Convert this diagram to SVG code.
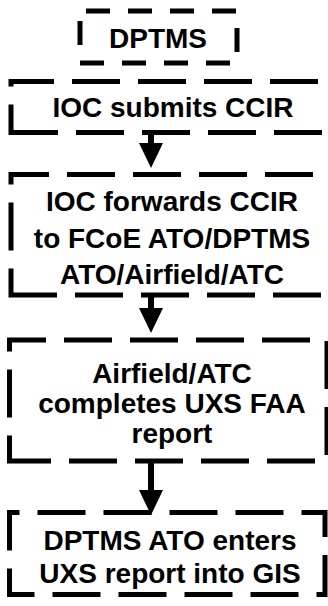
<svg xmlns="http://www.w3.org/2000/svg" width="328" height="606" viewBox="0 0 328 606">
<defs>
<style>
.box{fill:none;stroke:#000;stroke-width:5;stroke-dasharray:48 18}
.small{fill:none;stroke:#000;stroke-width:5;stroke-dasharray:24 18}
.lbl{font-family:"Liberation Sans",Arial,sans-serif;font-weight:bold;font-size:28px;fill:#000;text-anchor:middle}
.conn{stroke:#000;stroke-width:6;fill:none}
</style>
<marker id="ah" markerUnits="userSpaceOnUse" viewBox="0 0 24 25" markerWidth="24" markerHeight="25" refX="12" refY="0" orient="0">
<path d="M0,0 L24,0 L12,25 Z" fill="#000"/>
</marker>
</defs>
<rect width="328" height="606" fill="#fff"/>
<g id="n0">
<path class="small" d="M80,11 H237 V63 H80 Z" stroke-dashoffset="36"/>
<text class="lbl" x="158" y="48">DPTMS</text>
</g>
<g id="n1">
<path class="box" d="M11,132.5 V81.5 H336.5 V132.5 Z" stroke-dashoffset="20"/>
<text class="lbl" x="173" y="117">IOC submits CCIR</text>
</g>
<g id="n2">
<path class="box" d="M11,295 V174.5 H331.75 V295 Z" stroke-dashoffset="21.5"/>
<text class="lbl" x="172" y="211">IOC forwards CCIR</text>
<text class="lbl" x="172" y="248">to FCoE ATO/DPTMS</text>
<text class="lbl" x="172" y="284">ATO/Airfield/ATC</text>
</g>
<g id="n3">
<path class="box" d="M9.5,461 V340 H327 V461 Z" stroke-dashoffset="22.5"/>
<text class="lbl" x="172" y="383">Airfield/ATC</text>
<text class="lbl" x="172" y="413">completes UXS FAA</text>
<text class="lbl" x="172" y="443">report</text>
</g>
<g id="n4">
<path class="box" d="M9.5,594.5 V512.5 H325 V594.5 Z" stroke-dashoffset="22"/>
<text class="lbl" x="170" y="550">DPTMS ATO enters</text>
<text class="lbl" x="170" y="583">UXS report into GIS</text>
</g>
<g id="connectors">
<line class="conn" x1="151" y1="133" x2="151" y2="143" marker-end="url(#ah)"/>
<line class="conn" x1="151" y1="295" x2="151" y2="308" marker-end="url(#ah)"/>
<line class="conn" x1="151" y1="461" x2="151" y2="490" marker-end="url(#ah)"/>
</g>
</svg>
